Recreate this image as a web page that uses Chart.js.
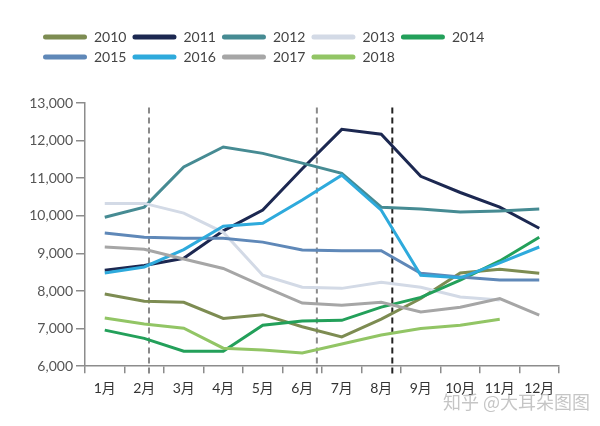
<!DOCTYPE html>
<html>
<head>
<meta charset="utf-8">
<script src="https://cdn.jsdelivr.net/npm/chart.js@4"></script>
<style>
  html, body { margin: 0; padding: 0; background: #fff; }
  #wrap { width: 600px; height: 426px; }
</style>
</head>
<body>
<div id="wrap"><canvas id="priceChart"></canvas></div>
<script>
// Categories
const months = ['1月', '2月', '3月', '4月', '5月', '6月', '7月', '8月', '9月', '10月', '11月', '12月'];

// Series values
const y2010 = [7920, 7730, 7700, 7270, 7370, 7050, 6780, 7250, 7800, 8480, 8580, 8470];
const y2011 = [8550, 8680, 8870, 9600, 10150, 11250, 12300, 12170, 11050, 10620, 10230, 9670];
const y2012 = [9960, 10230, 11300, 11830, 11660, 11400, 11130, 10230, 10180, 10100, 10130, 10180];
const y2013 = [10330, 10330, 10070, 9560, 8420, 8100, 8070, 8230, 8100, 7840, 7760, null];
const y2014 = [6960, 6740, 6400, 6400, 7090, 7200, 7220, 7570, 7830, 8290, 8800, 9430];
const y2015 = [9540, 9430, 9400, 9400, 9300, 9090, 9070, 9070, 8470, 8370, 8290, 8290];
const y2016 = [8480, 8640, 9100, 9720, 9800, 10420, 11080, 10150, 8420, 8350, 8750, 9170];
const y2017 = [9170, 9110, 8850, 8600, 8130, 7680, 7620, 7700, 7440, 7570, 7800, 7360];
const y2018 = [7280, 7120, 7010, 6480, 6430, 6350, 6590, 6830, 7000, 7090, 7250, null];

const years = ['2010', '2011', '2012', '2013', '2014', '2015', '2016', '2017', '2018'];
const seriesValues = [y2010, y2011, y2012, y2013, y2014, y2015, y2016, y2017, y2018];
const seriesColors = ['#7d8c52', '#1c2851', '#468b93', '#d3dae6', '#23a05a', '#5f88b8', '#2eaadc', '#a6a6a6', '#92c565'];

// Dashed marker lines (fractional category index) and their colours
const markerIndex = [1.12, 5.37, 7.28];
const markerColors = ['#8a8a8a', '#8a8a8a', '#222222'];
const markerTop = 12880;

// Y axis
const yMin = 6000;
const yMax = 13000;
const yStep = 1000;

const watermark = '知乎 @大耳朵图图';

const fontFamily = 'Lato, "Noto Sans CJK SC", sans-serif';
const legendShift = 19;

// Dashed vertical lines
const markerPlugin = {
    id: 'markerLines',
    beforeDatasetsDraw(chart) {
        const ctx = chart.ctx;
        const xs = chart.scales.x;
        const ys = chart.scales.y;
        ctx.save();
        ctx.lineWidth = 2;
        ctx.setLineDash([6, 4]);
        markerIndex.forEach((v, i) => {
            const x = xs.getPixelForValue(v);
            ctx.strokeStyle = markerColors[i];
            ctx.beginPath();
            ctx.moveTo(x, ys.getPixelForValue(markerTop));
            ctx.lineTo(x, ys.getPixelForValue(yMin) + 8);
            ctx.stroke();
        });
        ctx.restore();
    }
};

// Nudge the legend rows right so they line up with the plot
const legendPlugin = {
    id: 'legendShift',
    afterLayout(chart) {
        if (chart.legend) {
            chart.legend.left += legendShift;
            chart.legend.right += legendShift;
        }
    }
};

// Watermark text in the corner
const watermarkPlugin = {
    id: 'watermark',
    afterDraw(chart) {
        const ctx = chart.ctx;
        ctx.save();
        ctx.font = '18px "Noto Sans CJK SC", sans-serif';
        ctx.fillStyle = 'rgba(150, 150, 150, 0.55)';
        ctx.textAlign = 'right';
        ctx.textBaseline = 'middle';
        ctx.fillText(watermark, chart.width - 10, chart.height - 24);
        ctx.restore();
    }
};

const ctx = document.getElementById('priceChart').getContext('2d');

const chart = new Chart(ctx, {
    type: 'line',
    data: {
        labels: months,
        datasets: years.map((y, i) => ({
            label: y,
            data: seriesValues[i],
            borderColor: seriesColors[i],
            backgroundColor: seriesColors[i],
            borderWidth: 3,
            pointRadius: 0,
            tension: 0,
            fill: false,
            order: years.length - i
        }))
    },
    options: {
        responsive: true,
        maintainAspectRatio: false,
        animation: false,
        layout: {
            padding: { left: 18, right: 41, top: 24, bottom: 22 }
        },
        plugins: {
            legend: {
                display: true,
                position: 'top',
                align: 'start',
                weight: 3000,
                labels: {
                    boxWidth: 44,
                    boxHeight: 5,
                    useBorderRadius: true,
                    borderRadius: 2.5,
                    padding: 6,
                    color: '#444',
                    font: { size: 14, family: fontFamily },
                    sort: (a, b) => a.datasetIndex - b.datasetIndex,
                    generateLabels(chart) {
                        const items = Chart.defaults.plugins.legend.labels.generateLabels(chart);
                        return items.map(it => Object.assign(it, { lineWidth: 0 }));
                    }
                }
            },
            // blank title used as a spacer between legend and plot
            title: {
                display: true,
                text: '',
                font: { size: 10 },
                padding: { top: 0, bottom: 17 }
            },
            tooltip: { enabled: false }
        },
        scales: {
            y: {
                min: yMin,
                max: yMax,
                afterFit(scale) { scale.width = 67; },
                ticks: {
                    stepSize: yStep,
                    color: '#555',
                    padding: 3,
                    font: { size: 14, family: fontFamily },
                    callback: v => v.toLocaleString('en-US')
                },
                grid: {
                    drawOnChartArea: false,
                    drawTicks: true,
                    tickLength: 9,
                    color: '#8c8c8c',
                    lineWidth: 1.5
                },
                border: { color: '#8c8c8c', width: 1.5 }
            },
            x: {
                offset: true,
                ticks: {
                    color: '#333',
                    padding: 7,
                    maxRotation: 0,
                    autoSkip: false,
                    font: { size: 14, family: fontFamily }
                },
                grid: {
                    offset: true,
                    drawOnChartArea: false,
                    drawTicks: true,
                    tickLength: 7,
                    color: '#8c8c8c',
                    lineWidth: 1.5
                },
                border: { color: '#8c8c8c', width: 1.5 }
            }
        }
    },
    plugins: [markerPlugin, legendPlugin, watermarkPlugin]
});
</script>
</body>
</html>
